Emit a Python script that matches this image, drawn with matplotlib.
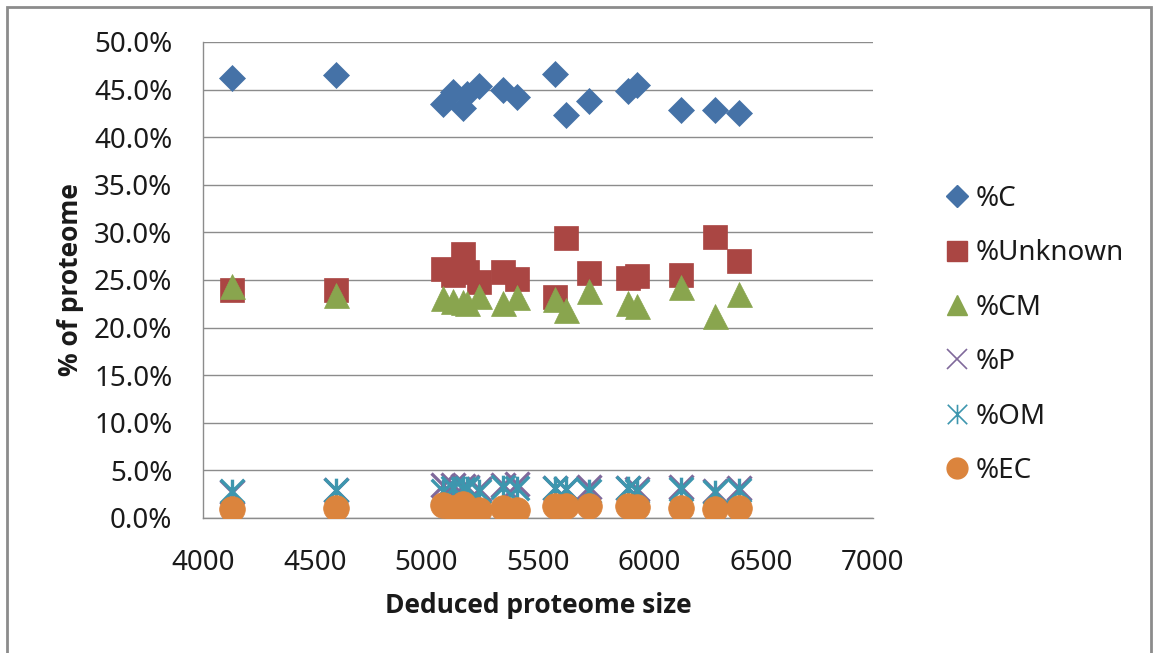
import matplotlib
matplotlib.use("Agg")
import matplotlib.pyplot as plt
from matplotlib.lines import Line2D
from matplotlib.path import Path
from matplotlib.patches import Rectangle
from matplotlib.ticker import FuncFormatter, MultipleLocator

# ---- data ----
sizes = [4128, 4596, 5076, 5121, 5166, 5180, 5238, 5345, 5405, 5576, 5625, 5729, 5902, 5943, 6141, 6294, 6400]
pct_C = [46.2, 46.5, 43.5, 44.7, 43.1, 44.5, 45.4, 45.0, 44.2, 46.6, 42.3, 43.8, 44.9, 45.5, 42.9, 42.9, 42.5]
pct_Unknown = [23.9, 23.9, 26.2, 25.5, 27.7, 25.8, 24.8, 25.8, 25.1, 23.2, 29.4, 25.7, 25.2, 25.4, 25.5, 29.5, 27.0]
pct_CM = [24.4, 23.4, 23.1, 22.8, 22.7, 22.6, 23.3, 22.6, 23.2, 23.0, 21.8, 23.8, 22.6, 22.3, 24.3, 21.2, 23.5]
pct_P = [2.7, 2.9, 3.5, 3.5, 3.4, 3.3, 3.0, 3.5, 3.6, 3.2, 3.0, 3.3, 3.2, 3.0, 3.3, 2.8, 3.2]
pct_OM = [2.8, 2.9, 2.8, 3.2, 3.0, 3.1, 2.8, 3.3, 3.1, 3.2, 3.0, 2.8, 3.1, 2.8, 3.0, 2.7, 2.9]
pct_EC = [0.9, 1.0, 1.4, 1.1, 1.5, 0.6, 0.8, 1.0, 0.8, 1.3, 1.3, 1.3, 1.3, 1.2, 1.0, 0.9, 1.1]

series_names = ["%C", "%Unknown", "%CM", "%P", "%OM", "%EC"]
x_label = "Deduced proteome size"
y_label = "% of proteome"

# ---- style ----
plt.rcParams['font.family'] = ['Noto Sans', 'DejaVu Sans']
colors = ["#4572A7", "#AA4643", "#89A54E", "#80699B", "#3D96AE", "#DB843D"]
grid_col = "#8c8c8c"

# asterisk marker: X plus vertical bar
ast = Path([(-0.5, -0.5), (0.5, 0.5), (-0.5, 0.5), (0.5, -0.5), (0, -0.5), (0, 0.5)],
           [Path.MOVETO, Path.LINETO, Path.MOVETO, Path.LINETO, Path.MOVETO, Path.LINETO])

fig = plt.figure(figsize=(11.56, 6.53), dpi=100)
ax = fig.add_axes([203/1156, 1-518/653, (873-203)/1156, (518-42)/653])

series = [pct_C, pct_Unknown, pct_CM, pct_P, pct_OM, pct_EC]
markers = ['D', 's', '^', 'x', ast, 'o']
msizes = [13.5, 17, 18, 17, 17, 18.5]
for vals, m, ms, c, name in zip(series, markers, msizes, colors, series_names):
    filled = m not in ('x',) and m is not ast
    if filled:
        ax.plot(sizes, vals, linestyle='none', marker=m, markersize=ms,
                markerfacecolor=c, markeredgecolor=c, markeredgewidth=0.5, label=name, zorder=3)
    else:
        ax.plot(sizes, vals, linestyle='none', marker=m, markersize=ms,
                markeredgecolor=c, markerfacecolor='none', markeredgewidth=2.4, label=name, zorder=3)

ax.set_xlim(4000, 7000)
ax.set_ylim(0, 50)
ax.xaxis.set_major_locator(MultipleLocator(500))
ax.yaxis.set_major_locator(MultipleLocator(5))
ax.yaxis.set_major_formatter(FuncFormatter(lambda v, p: f"{v:.1f}%"))
ax.grid(axis='y', color=grid_col, linewidth=1.0)
ax.set_axisbelow(True)
for s in ['top', 'right']:
    ax.spines[s].set_visible(False)
for s in ['left', 'bottom']:
    ax.spines[s].set_color(grid_col)
    ax.spines[s].set_linewidth(1.0)
ax.tick_params(axis='both', length=0, labelsize=20, colors='#1a1a1a')
ax.tick_params(axis='y', pad=22)
ax.tick_params(axis='x', pad=22)

lab_font = dict(fontsize=19, fontweight='bold', family=['Open Sans', 'DejaVu Sans'], color='#1a1a1a')
ax.set_xlabel(x_label, labelpad=11, **lab_font)
ax.set_ylabel(y_label, labelpad=7, **lab_font)

# legend
handles = []
leg_ms = [11, 14, 15, 14, 14, 15]
for m, ms, c, name in zip(markers, leg_ms, colors, series_names):
    filled = m not in ('x',) and m is not ast
    if filled:
        h = Line2D([], [], linestyle='none', marker=m, markersize=ms,
                   markerfacecolor=c, markeredgecolor=c)
    else:
        h = Line2D([], [], linestyle='none', marker=m, markersize=ms,
                   markerfacecolor='none', markeredgecolor=c, markeredgewidth=1.2)
    handles.append(h)
leg = fig.legend(handles, series_names, loc='upper left',
                 bbox_to_anchor=(946/1156, 1-185/653), frameon=False,
                 fontsize=20, handlelength=0.8, handletextpad=0.25,
                 labelspacing=0.95, borderpad=0, borderaxespad=0)
for t in leg.get_texts():
    t.set_color('#1a1a1a')

# outer frame
fig.add_artist(Rectangle((7/1156, -0.05), (1151-7)/1156, 1.05 - 7/653,
                         transform=fig.transFigure, fill=False,
                         edgecolor=grid_col, linewidth=2.0))

fig.savefig("out.png", dpi=100)
